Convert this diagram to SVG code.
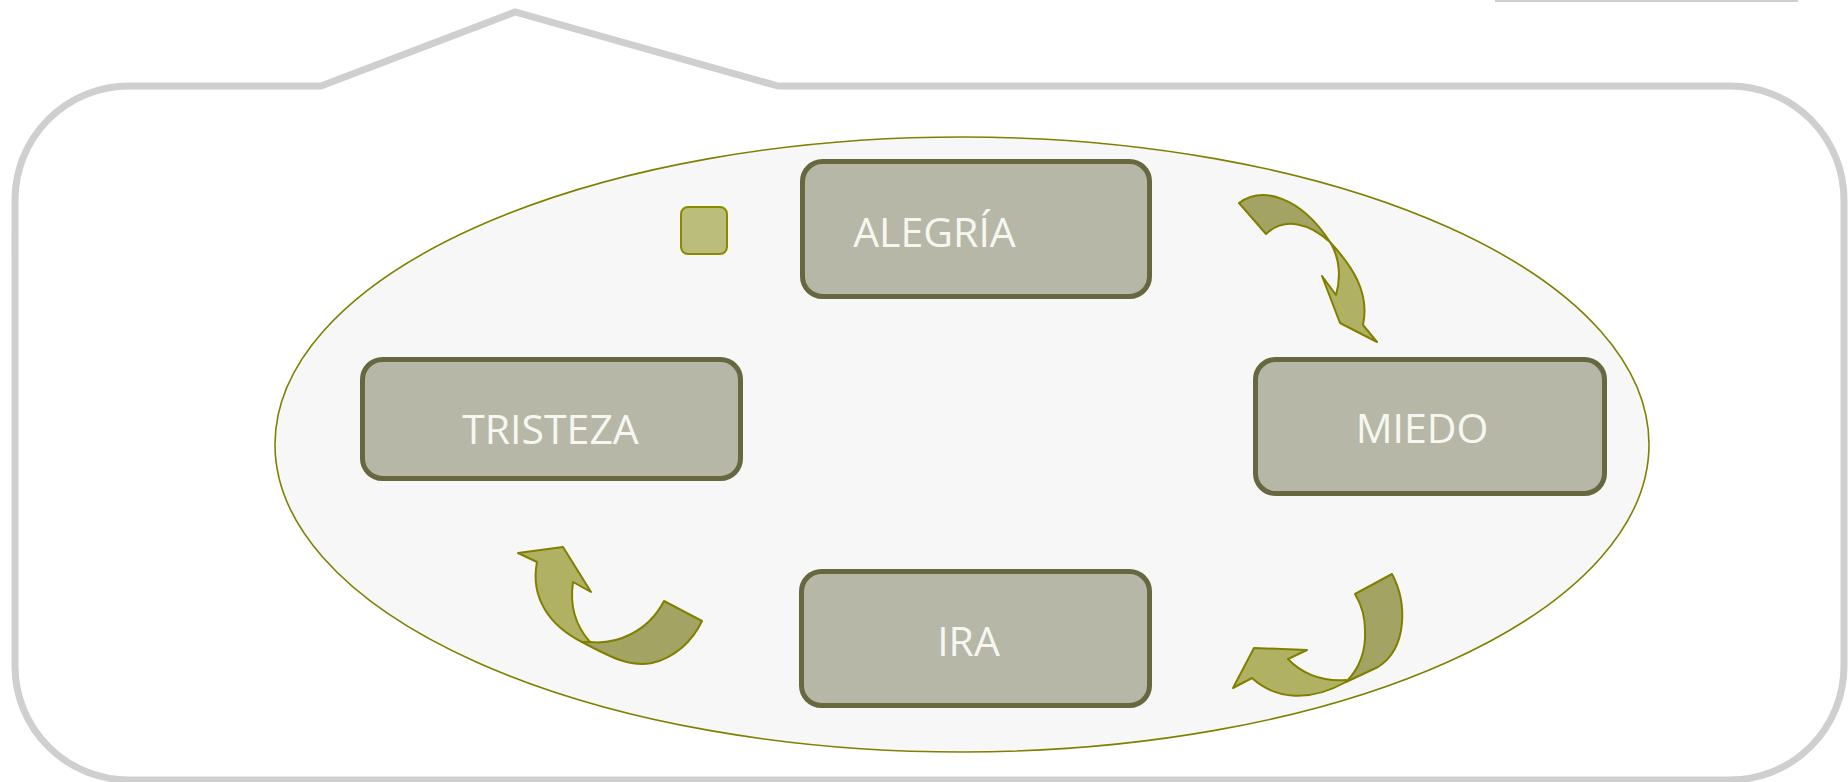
<svg xmlns="http://www.w3.org/2000/svg" width="1848" height="782" viewBox="0 0 1848 782">
<style>
.box{fill:#b6b7a7;stroke:#686840;stroke-width:5}
.lbl{font-family:"Open Sans","Liberation Sans",sans-serif;font-size:41px;fill:#f7f7f2;text-anchor:middle}
.dark{fill:#a3a363;stroke:#808000;stroke-width:2;stroke-linejoin:round}
.light{fill:#b1b163;stroke:#808000;stroke-width:2;stroke-linejoin:round}
</style>
<rect width="1848" height="782" fill="#ffffff"/>
<g id="frame">
<path d="M129,86 L321,86 L515,12 L778,86 L1730,86 A114,114 0 0 1 1844,200 L1844,666 A114,114 0 0 1 1730,780 L129,780 A114,114 0 0 1 15,666 L15,200 A114,114 0 0 1 129,86 Z" fill="none" stroke="#d0cfcf" stroke-width="7"/>
<line x1="1495" y1="1" x2="1798" y2="1" stroke="#d0cfcf" stroke-width="2"/>
</g>
<g id="cycle">
<ellipse cx="962" cy="444.5" rx="687" ry="307.5" fill="#f7f7f7" stroke="#808000" stroke-width="1.6"/>
</g>
<g id="marker-square">
<rect x="681" y="207" width="46" height="47" rx="7" fill="#bbbd7b" stroke="#8a8a00" stroke-width="2"/>
</g>
<g id="node-alegria">
<rect class="box" x="802.5" y="161.5" width="347" height="135" rx="20"/>
<text class="lbl" x="934.5" y="247">ALEGRÍA</text>
</g>
<g id="node-miedo">
<rect class="box" x="1255.5" y="359.5" width="349" height="134" rx="20"/>
<text class="lbl" x="1422" y="443">MIEDO</text>
</g>
<g id="node-ira">
<rect class="box" x="801.5" y="571.5" width="348" height="134" rx="20"/>
<text class="lbl" x="968.5" y="656">IRA</text>
</g>
<g id="node-tristeza">
<rect class="box" x="362.5" y="359.5" width="378" height="119" rx="20"/>
<text class="lbl" x="550.5" y="444">TRISTEZA</text>
</g>
<g id="connectors">
<g id="arrow-alegria-miedo">
<path class="dark" d="M1239,203 C1262,186 1300,196 1330,242 C1310,224 1285,216 1266,234 Z"/>
<path class="light" d="M1330,242 C1352,266 1370,292 1363,325 L1377,342 L1340,323 L1322,276 L1336,295 C1341,278 1340,258 1330,242 Z"/>
</g>
<g id="arrow-miedo-ira">
<path class="dark" d="M1355,594 L1392,574 C1407,602 1408,648 1378,667 L1346,682 C1360,668 1366,650 1365,630 C1365,616 1361,604 1355,594 Z"/>
<path class="light" d="M1346,682 C1310,702 1276,700 1252,678 L1233,688 L1254,648 L1307,650 L1288,659 C1300,672 1320,682 1346,680 Z"/>
</g>
<g id="arrow-ira-tristeza">
<path class="dark" d="M664,601 L702,621 C692,642 674,658 652,663 C630,667 612,658 582,642 L590,642 C616,645 648,632 664,601 Z"/>
<path class="light" d="M582,642 C550,626 530,598 537,562 L518,553 L563,547 L591,592 L573,582 C570,602 574,624 590,642 Z"/>
</g>
</g>
</svg>
